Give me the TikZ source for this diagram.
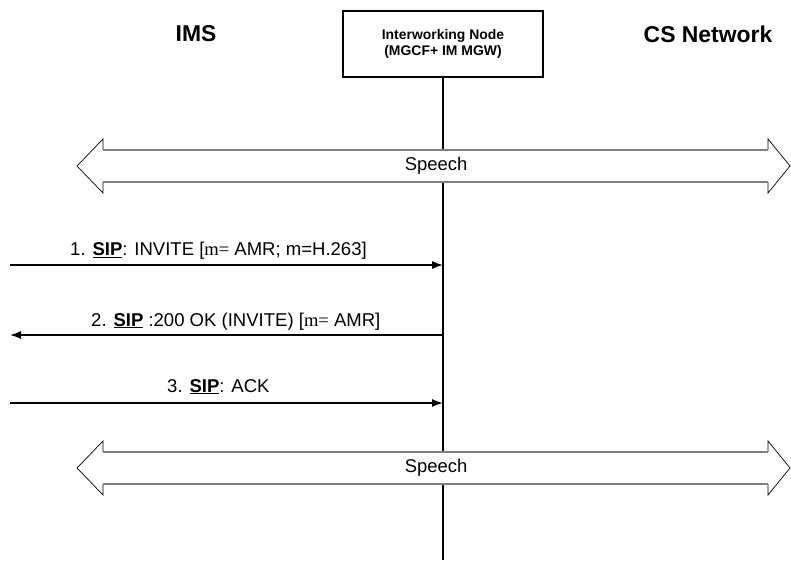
\documentclass[tikz,border=0pt]{standalone}
\usepackage{fontspec}
\usetikzlibrary{arrows.meta}
\setmainfont{Liberation Sans}
\newfontfamily\tms{Liberation Serif}
\begin{document}
\begin{tikzpicture}[x=1bp,y=-1bp,
  hdr/.style={font=\fontsize{23}{27}\selectfont\bfseries, inner sep=0},
  msg/.style={font=\fontsize{18.6}{22}\selectfont, inner sep=0, anchor=base west},
  spch/.style={font=\fontsize{18.5}{22}\selectfont, inner sep=0},
  sig/.style={line width=1.3bp, -{Latex[length=11bp,width=8bp]}},
  shaft/.style={draw=black!50, line width=1.6bp},
  head/.style={draw=black, line width=0.7bp, line join=miter}
]
\useasboundingbox (0,0) rectangle (791,561);
\node[hdr] (ims) at (196,34) {IMS};
\node[hdr] (cs) at (708,34) {CS Network};
\node[draw, line width=1.3bp, minimum width=200bp, minimum height=66bp, inner sep=0,
  align=center, font=\fontsize{14}{16.5}\selectfont\bfseries] (iw) at (443,44)
  {Interworking Node\\(MGCF+ IM MGW)};
\coordinate (lb) at (443,560);
\draw[line width=1.3bp] (iw.south) -- (lb);
% message endpoints
\coordinate (m1l) at (10,265);
\coordinate (m1r) at (iw.south |- m1l);
\coordinate (m2l) at (10,335);
\coordinate (m2r) at (iw.south |- m2l);
\coordinate (m3l) at (10,403);
\coordinate (m3r) at (iw.south |- m3l);
\draw[sig] (m1l) -- (m1r);
\draw[sig] (m2r) -- (m2l);
\draw[sig] (m3l) -- (m3r);
\node[msg] (t1) at (70,256) {1. \underline{\textbf{SIP}}: INVITE [{\tms m=} AMR; m=H.263]};
\node[msg] (t2) at (91,326) {2. \underline{\textbf{SIP}} :200 OK (INVITE) [{\tms m=} AMR]};
\node[msg] (t3) at (167,392) {3. \underline{\textbf{SIP}}: ACK};
% speech arrows
\foreach \y/\n in {166/s1,468/s2}{
  \fill[white] (77,\y) -- (103,\y-27) -- (103,\y-16) -- (768,\y-16) -- (768,\y-27) -- (790,\y)
    -- (768,\y+27) -- (768,\y+16) -- (103,\y+16) -- (103,\y+27) -- cycle;
  \draw[head] (103,\y-16) -- (103,\y-27) -- (77,\y) -- (103,\y+27) -- (103,\y+16);
  \draw[head] (768,\y-16) -- (768,\y-27) -- (790,\y) -- (768,\y+27) -- (768,\y+16);
  \draw[shaft] (103,\y-16) -- (768,\y-16);
  \draw[shaft] (103,\y+16) -- (768,\y+16);
  \node[spch] (\n) at (436,\y) {Speech};
}
\end{tikzpicture}
\end{document}
